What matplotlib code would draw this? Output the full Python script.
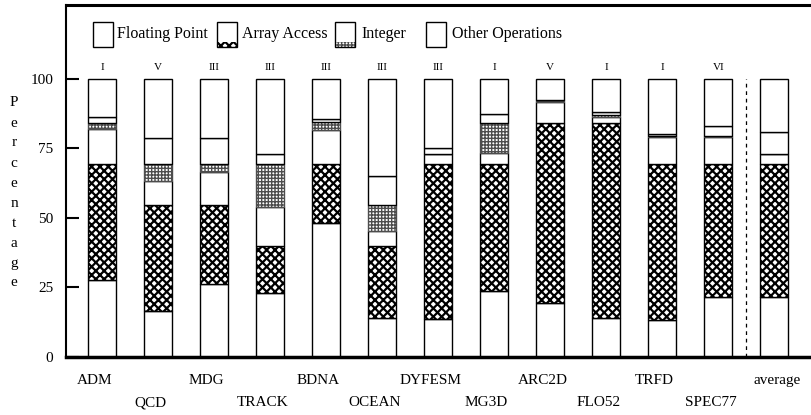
import numpy as np
import matplotlib
matplotlib.use('Agg')
import matplotlib.pyplot as plt
from matplotlib.patches import Rectangle
import matplotlib.transforms as mtransforms

plt.rcParams['font.family'] = ['Liberation Serif', 'DejaVu Serif']

# benchmarks and their class
names = ['ADM', 'QCD', 'MDG', 'TRACK', 'BDNA', 'OCEAN', 'DYFESM', 'MG3D',
         'ARC2D', 'FLO52', 'TRFD', 'SPEC77', 'average']
classes = ['I', 'V', 'III', 'III', 'III', 'III', 'III', 'I', 'V', 'I', 'I', 'VI', '']

# segment boundaries (percent), bottom to top
aa_lo = np.array([27.6, 16.4, 26.0, 22.8, 48.0, 14.0, 13.4, 23.7, 19.2, 13.8, 13.2, 21.6, 21.6])
aa_hi = np.array([69.3, 54.6, 54.6, 39.8, 69.3, 39.8, 69.3, 69.3, 84.0, 84.0, 69.3, 69.3, 69.3])
int_lo = np.array([81.9, 63.1, 66.4, 54.0, 81.6, 45.2, 72.9, 73.2, 91.6, 86.5, 79.0, 79.0, 72.9])
int_hi = np.array([84.0, 69.3, 69.3, 69.3, 84.6, 54.6, 72.9, 84.0, 92.4, 86.9, 79.4, 79.4, 72.9])
other_lo = np.array([86.2, 78.7, 78.6, 73.1, 85.5, 65.0, 75.0, 87.5, 92.4, 88.2, 80.3, 83.2, 81.0])
total = np.full(len(names), 100.0)

AA_HATCH, AA_LW = 'xxxx', 1.6
INT_HATCH, INT_LW, INT_COL = '+++++', 1.0, '0.3'

fig = plt.figure(figsize=(8.11, 4.15), dpi=100)
ax = fig.add_axes([66/811, 58.5/415, 745/811, 351.5/415])

x = np.arange(len(names))
w = 0.5

# floating point (bottom), white gaps, other operations
ax.bar(x, aa_lo, width=w, color='white', edgecolor='black', linewidth=1.0)
plt.rcParams['hatch.linewidth'] = AA_LW
ax.bar(x, aa_hi - aa_lo, bottom=aa_lo, width=w, color='white',
       edgecolor='black', hatch=AA_HATCH, linewidth=1.0)
ax.bar(x, int_lo - aa_hi, bottom=aa_hi, width=w, color='white',
       edgecolor='black', linewidth=1.0)
plt.rcParams['hatch.linewidth'] = INT_LW
ax.bar(x, int_hi - int_lo, bottom=int_lo, width=w, color='white',
       edgecolor=INT_COL, hatch=INT_HATCH, linewidth=1.0)
ax.bar(x, other_lo - int_hi, bottom=int_hi, width=w, color='white',
       edgecolor='black', linewidth=1.0)
ax.bar(x, total - other_lo, bottom=other_lo, width=w, color='white',
       edgecolor='black', linewidth=1.0)

# class labels above bars
for xi, c in zip(x, classes):
    ax.text(xi, 104, c, ha='center', va='center', fontsize=8)

# separator before average
ax.plot([len(names) - 1.5] * 2, [0, 100], color='black', linestyle=(0, (3, 3)), linewidth=0.9)

ax.set_xlim(-0.648, 12.655)
ax.set_ylim(0, 126.7)
ax.set_yticks([0, 25, 50, 75, 100])
ax.tick_params(axis='y', direction='in', length=9, width=1.5, pad=9, labelsize=11)
ax.set_xticks([])
ax.spines['right'].set_visible(False)
ax.spines['left'].set_linewidth(1.5)
ax.spines['top'].set_linewidth(2.2)
ax.spines['bottom'].set_linewidth(2.5)

# benchmark names in two staggered rows
trans = mtransforms.blended_transform_factory(ax.transData, ax.transAxes)
for i, n in enumerate(names):
    yy = -0.067 if i % 2 == 0 else -0.132
    off = 0.05 if n == 'average' else -0.14
    ax.text(i + off, yy, n, transform=trans, ha='center', va='center', fontsize=11)

# vertical y label, one letter per line
for k, ch in enumerate('Percentage'):
    fig.text(14/811, 1 - (103 + 20*k)/415, ch, ha='center', va='center', fontsize=11)

# legend
leg = [('Floating Point', None, 0.036, 0.0685),
       ('Array Access', 'aa', 0.2027, 0.236),
       ('Integer', 'int', 0.361, 0.397),
       ('Other Operations', None, 0.483, 0.518)]
bw, bh, by = 0.027, 0.071, 0.881
for label, kind, bx, tx in leg:
    if kind == 'aa':
        plt.rcParams['hatch.linewidth'] = AA_LW
        ax.add_patch(Rectangle((bx, by), bw, 0.013, transform=ax.transAxes,
                               facecolor='white', edgecolor='black', hatch=AA_HATCH,
                               linewidth=0))
    elif kind == 'int':
        plt.rcParams['hatch.linewidth'] = INT_LW
        ax.add_patch(Rectangle((bx, by), bw, 0.013, transform=ax.transAxes,
                               facecolor='white', edgecolor=INT_COL, hatch=INT_HATCH,
                               linewidth=0))
    ax.add_patch(Rectangle((bx, by), bw, bh, transform=ax.transAxes,
                           facecolor='none', edgecolor='black', linewidth=1.0))
    ax.text(tx, by + bh/2, label, transform=ax.transAxes, ha='left', va='center',
            fontsize=11.5)

fig.savefig('out.png', dpi=100)
